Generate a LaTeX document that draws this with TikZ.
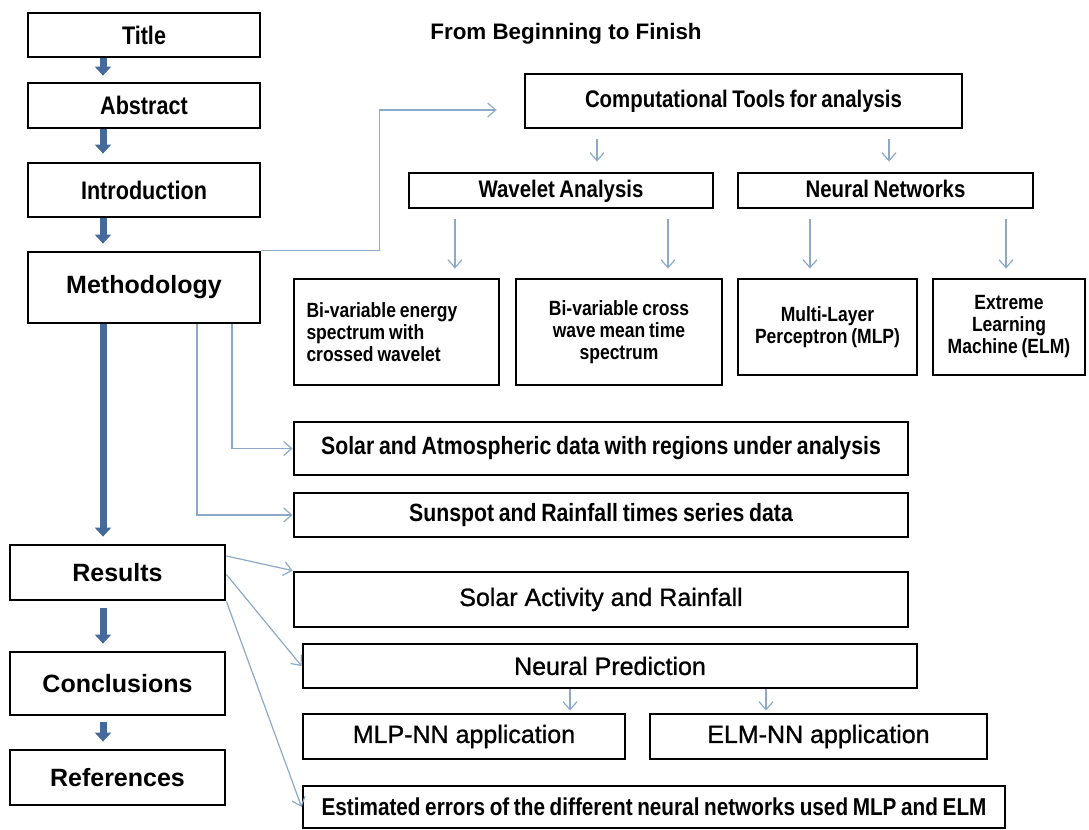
\documentclass[tikz,border=0pt]{standalone}
\usepackage{fontspec}
\setmainfont{Liberation Sans}[FakeStretch=0.85, WordSpace=0.8]
\newfontfamily\plainsans{Liberation Sans}
\newfontfamily\midsans{Liberation Sans}[FakeBold=1]
\usepackage{xcolor}
\usepackage{tikz}
\usetikzlibrary{arrows.meta, calc}

\definecolor{arrowblue}{RGB}{70,105,155}
\definecolor{linkblue}{RGB}{140,170,200}

\begin{document}
\begin{tikzpicture}[x=0.5pt, y=-0.5pt,
		box/.style = {draw, line width=1.4pt, align=center, inner sep=2pt},
		bigarrow/.style = {draw=arrowblue, line width=3.5pt, -{Triangle[width=8pt,length=4.5pt]}},
		thinarrow/.style = {draw=linkblue, line width=0.6pt, -{Straight Barb[width=7pt,length=4pt]}},
		lefttxt/.style = {font=\fontsize{12.7}{15}\selectfont\bfseries},
		leftbig/.style = {font=\plainsans\fontsize{12.5}{15}\selectfont\bfseries},
		midtxt/.style = {font=\fontsize{12}{14}\selectfont\bfseries, text height=9pt, text depth=2.5pt},
		smalltxt/.style = {font=\fontsize{10.3}{11}\selectfont\bfseries},
		datatxt/.style = {font=\fontsize{12.5}{14}\selectfont\bfseries},
		plaintxt/.style = {font=\midsans\fontsize{12.5}{14}\selectfont}]
			\useasboundingbox (0,0) rectangle (1089,830);
			
			\node [box, lefttxt, minimum width=116pt, minimum height=22pt] (title) at (144,35) {Title};
			\node [box, lefttxt, minimum width=116pt, minimum height=22.5pt] (abstract) at (144,105.5) {Abstract};
			\node [box, lefttxt, minimum width=116pt, minimum height=27pt] (intro) at (144,190) {Introduction};
			\node [box, leftbig, minimum width=116pt, minimum height=35.5pt] (method) at (144,287.5) {Methodology};
			\node [box, leftbig, minimum width=107.5pt, minimum height=27.5pt] (results) at (117.5,572.5) {Results};
			\node [box, leftbig, minimum width=107.5pt, minimum height=31.5pt] (concl) at (117.5,683.5) {Conclusions};
			\node [box, leftbig, minimum width=107.5pt, minimum height=27.5pt] (refs) at (117.5,777.5) {References};
			
			\node [font=\plainsans\fontsize{11.2}{13}\selectfont\bfseries] (heading) at (566,34) {From Beginning to Finish};
			
			\node [box, midtxt, minimum width=218.5pt, minimum height=27pt] (comp) at (743.5,101) {Computational Tools for analysis};
			\node [box, midtxt, minimum width=152pt, minimum height=17.5pt] (wave) at (561,190.5) {Wavelet Analysis};
			\node [box, midtxt, minimum width=147.5pt, minimum height=17.5pt] (nn) at (885.5,190.5) {Neural Networks};
			
			\node [box, smalltxt, minimum width=102.5pt, minimum height=53pt, text width=90pt, align=left] (energy) at (396.5,332)
			{\spaceskip=0pt Bi-variable energy\\ spectrum with\\ crossed wavelet};
			\node [box, smalltxt, minimum width=103pt, minimum height=53pt] (cross) at (619,332)
			{Bi-variable cross\\ wave mean time\\ spectrum};
			\node [box, smalltxt, minimum width=89.5pt, minimum height=48pt] (mlp) at (827.5,327)
			{Multi-Layer\\ Perceptron (MLP)};
			\node [box, smalltxt, minimum width=76pt, minimum height=48pt] (elm) at (1009,327)
			{Extreme\\ Learning\\ Machine (ELM)};
			
			\node [box, datatxt, minimum width=307pt, minimum height=26.5pt] (solar) at (601,448.5) {Solar and Atmospheric data with regions under analysis};
			\node [box, datatxt, minimum width=307pt, minimum height=22pt] (sunspot) at (601,515) {Sunspot and Rainfall times series data};
			\node [box, plaintxt, minimum width=307pt, minimum height=27.5pt] (activity) at (601,599.5) {Solar Activity and Rainfall};
			\node [box, plaintxt, minimum width=307pt, minimum height=22pt] (pred) at (610,666) {Neural Prediction};
			\node [box, plaintxt, minimum width=161pt, minimum height=22.5pt] (mlpnn) at (464,736.5) {MLP-NN application};
			\node [box, plaintxt, minimum width=168.5pt, minimum height=22.5pt] (elmnn) at (818.5,736.5) {ELM-NN application};
			\node [box, font=\fontsize{12.2}{13}\selectfont\bfseries, minimum width=351pt, minimum height=21pt] (errors) at (654,807) {Estimated errors of the different neural networks used MLP and ELM};
			
			\draw [bigarrow] ([xshift=-20.5pt]title.south) -- ([xshift=-20.5pt,yshift=3pt]abstract.north);
			\draw [bigarrow] ([xshift=-20.5pt]abstract.south) -- ([xshift=-20.5pt,yshift=4pt]intro.north);
			\draw [bigarrow] ([xshift=-20.5pt]intro.south) -- ([xshift=-20.5pt,yshift=3.5pt]method.north);
			\draw [bigarrow] ([xshift=-20.5pt]method.south) -- ([xshift=-7.25pt,yshift=3.5pt]results.north);
			\draw [bigarrow] ([xshift=-7.25pt,yshift=-3.5pt]results.south) -- ([xshift=-7.25pt,yshift=3.5pt]concl.north);
			\draw [bigarrow] ([xshift=-7.25pt,yshift=-3pt]concl.south) -- ([xshift=-7.25pt,yshift=3.5pt]refs.north);
			
			\draw [thinarrow] (method.north east) -- ++(118,0) |- ([xshift=-13.5pt,yshift=-4.5pt]comp.west);
			\draw [thinarrow] ([xshift=-73.25pt,yshift=-5pt]comp.south) -- ([xshift=18pt,yshift=5pt]wave.north);
			\draw [thinarrow] ([xshift=72.75pt,yshift=-5pt]comp.south) -- ([xshift=1.75pt,yshift=5pt]nn.north);
			\draw [thinarrow] ([xshift=-53pt,yshift=-5pt]wave.south) -- ([xshift=29.25pt,yshift=4.5pt]energy.north);
			\draw [thinarrow] ([xshift=53.5pt,yshift=-5pt]wave.south) -- ([xshift=24.5pt,yshift=4.5pt]cross.north);
			\draw [thinarrow] ([xshift=-37.75pt,yshift=-5pt]nn.south) -- ([xshift=-8.75pt,yshift=4.5pt]mlp.north);
			\draw [thinarrow] ([xshift=60.25pt,yshift=-5pt]nn.south) -- ([xshift=-1.5pt,yshift=4.5pt]elm.north);
			
			\draw [thinarrow] ([xshift=44pt]method.south) |- (solar.west);
			\draw [thinarrow] ([xshift=26.5pt]method.south) |- (sunspot.west);
			
			\draw [thinarrow] ([yshift=8.25pt]results.east) -- (activity.north west);
			\draw [thinarrow] ([yshift=-1pt]results.east) -- (pred.west);
			\draw [thinarrow] (results.south east) -- (errors.west);
			
			\draw [thinarrow] ([xshift=-20pt]pred.south) -- ([xshift=53pt,yshift=1pt]mlpnn.north);
			\draw [thinarrow] ([xshift=78pt]pred.south) -- ([xshift=-26.25pt,yshift=1pt]elmnn.north);
		\end{tikzpicture}
\end{document}
